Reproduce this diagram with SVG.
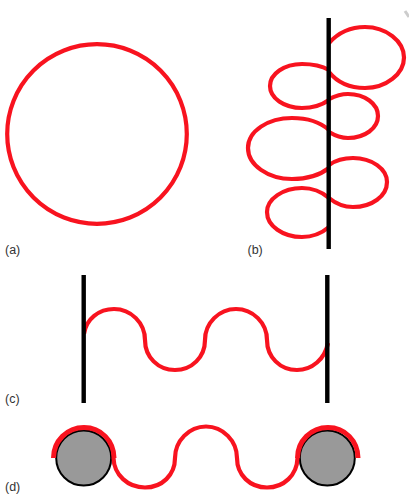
<svg xmlns="http://www.w3.org/2000/svg" width="409" height="494" viewBox="0 0 409 494">
<style>
.r{fill:none;stroke:#f8131f;stroke-width:4.2}
.k{fill:none;stroke:#000;stroke-width:4.4}
.t{font-family:"Liberation Sans",Arial,sans-serif;font-size:12.5px;fill:#333}
.c{fill:#999;stroke:#000;stroke-width:2}
</style>
<rect width="409" height="494" fill="#fff"/>
<path d="M405 11L409 17" stroke="#ccc" stroke-width="3" fill="none"/>
<g id="a">
<circle class="r" cx="97" cy="134" r="89.8"/>
<text class="t" x="5" y="254">(a)</text>
</g>
<g id="b">
<path class="r" d="M329 43C338 33 351 27 365 27C386 27 404 41 404 57.5C404 74 386 88 365 88C349 88 337 82 329 72"/>
<path class="r" d="M329 99C335 96 341 94 348 94C365 94 378 104 378 116C378 128 365 138 348 138C340 138 334 135 329 132"/>
<path class="r" d="M329 165C336 160 344 158 353 158C372 158 387 169 387 182C387 196 372 207 353 207C343 207 335 203 329 198"/>
<path class="r" d="M329 70C322 66 312 64 302 64C284 64 270 74 270 86C270 98 284 108 302 108C312 108 322 105 329 100"/>
<path class="r" d="M329 130C320 122 306 118 292 118C268 118 248 131 248 148C248 165 268 179 292 179C307 179 320 175 329 168"/>
<path class="r" d="M329 198C322 192 312 188 302 188C283 188 267 199 267 212C267 226 283 237 302 237C312 237 322 233 329 227"/>
<path class="k" d="M328.7 18V249"/>
<text class="t" x="247.500" y="254">(b)</text>
</g>
<g id="c">
<path class="r" d="M84 334C86 319 99 309 114 309C131 309 145 323 145 340C145 357 158 370 175 370C192 370 205 357 205 340C205 323 219 309 236 309C253 309 267 323 267 340C267 357 280 370 297 370C312 370 325 359 328 343"/>
<path class="k" d="M83.700 275V403M327.300 275V403"/>
<text class="t" x="5" y="403">(c)</text>
</g>
<g id="d">
<circle class="c" cx="83.700" cy="458" r="27.500"/>
<circle class="c" cx="327.300" cy="458" r="27.500"/>
<path class="r" d="M113.500 458C114 475 128 487.500 145 487.500C162 487.500 175 475 175 458C175 441 189 426.500 206 426.500C223 426.500 237 441 237 458C237 475 250 487.500 267 487.500C284 487.500 297 475 297.500 458"/>
<path class="r" style="stroke-width:5" d="M53.500 458C53.500 441 67 427.500 84 427.500C101 427.500 114 441 114 458"/>
<path class="r" style="stroke-width:5" d="M297.500 458C297.500 441 311 427.500 328 427.500C345 427.500 358 441 358 458"/>
<text class="t" x="5" y="491">(d)</text>
</g>
</svg>
